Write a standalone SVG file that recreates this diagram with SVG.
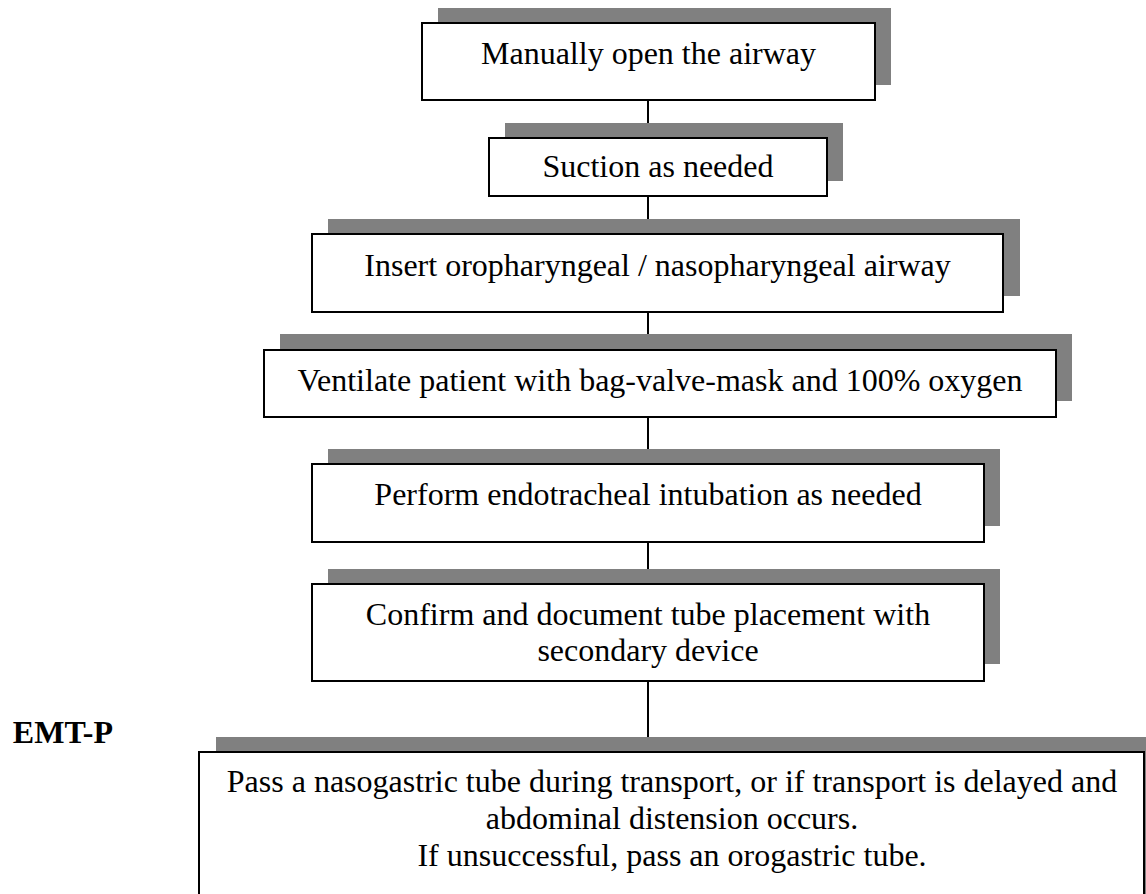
<svg xmlns="http://www.w3.org/2000/svg" width="1146" height="894" viewBox="0 0 1146 894">
<style>
.sh{fill:#808080;stroke:none}
.bx{fill:#fff;stroke:#000;stroke-width:2}
.t{font-family:"Liberation Serif","Times New Roman",serif;font-size:32px;fill:#000;text-anchor:middle}
.lbl{font-family:"Liberation Serif","Times New Roman",serif;font-size:32px;font-weight:bold;fill:#000}
.c{stroke:#000;stroke-width:2;fill:none}
</style>
<rect width="1146" height="894" fill="#fff"/>
<g id="connectors">
<line class="c" x1="648" y1="100" x2="648" y2="123"/>
<line class="c" x1="648" y1="196" x2="648" y2="219"/>
<line class="c" x1="648" y1="312" x2="648" y2="334"/>
<line class="c" x1="648" y1="417" x2="648" y2="449"/>
<line class="c" x1="648" y1="542" x2="648" y2="569"/>
<line class="c" x1="648" y1="681" x2="648" y2="737"/>
</g>
<g id="n1">
<rect class="sh" x="438" y="8" width="453" height="77"/>
<rect class="bx" x="422" y="23" width="453" height="77"/>
<text class="t" x="648.5" y="64">Manually open the airway</text>
</g>
<g id="n2">
<rect class="sh" x="505" y="123" width="338" height="58"/>
<rect class="bx" x="489" y="138" width="338" height="58"/>
<text class="t" x="658" y="177">Suction as needed</text>
</g>
<g id="n3">
<rect class="sh" x="328" y="219" width="692" height="77"/>
<rect class="bx" x="312" y="234" width="691" height="78"/>
<text class="t" x="657.5" y="276">Insert oropharyngeal / nasopharyngeal airway</text>
</g>
<g id="n4">
<rect class="sh" x="280" y="334" width="792" height="67"/>
<rect class="bx" x="264" y="350" width="792" height="67"/>
<text class="t" x="660" y="391">Ventilate patient with bag-valve-mask and 100% oxygen</text>
</g>
<g id="n5">
<rect class="sh" x="328" y="449" width="672" height="77"/>
<rect class="bx" x="312" y="464" width="672" height="78"/>
<text class="t" x="648" y="505">Perform endotracheal intubation as needed</text>
</g>
<g id="n6">
<rect class="sh" x="328" y="569" width="672" height="95"/>
<rect class="bx" x="312" y="584" width="672" height="97"/>
<text class="t" x="648" y="625">Confirm and document tube placement with</text>
<text class="t" x="648" y="661">secondary device</text>
</g>
<g id="n7">
<rect class="sh" x="216" y="737" width="950" height="180"/>
<rect class="bx" x="199" y="752" width="945" height="170"/>
<text class="t" x="672" y="792">Pass a nasogastric tube during transport, or if transport is delayed and</text>
<text class="t" x="672" y="829">abdominal distension occurs.</text>
<text class="t" x="672" y="866">If unsuccessful, pass an orogastric tube.</text>
</g>
<g id="label">
<text class="lbl" x="113" y="743" text-anchor="end">EMT-P</text>
</g>
</svg>
